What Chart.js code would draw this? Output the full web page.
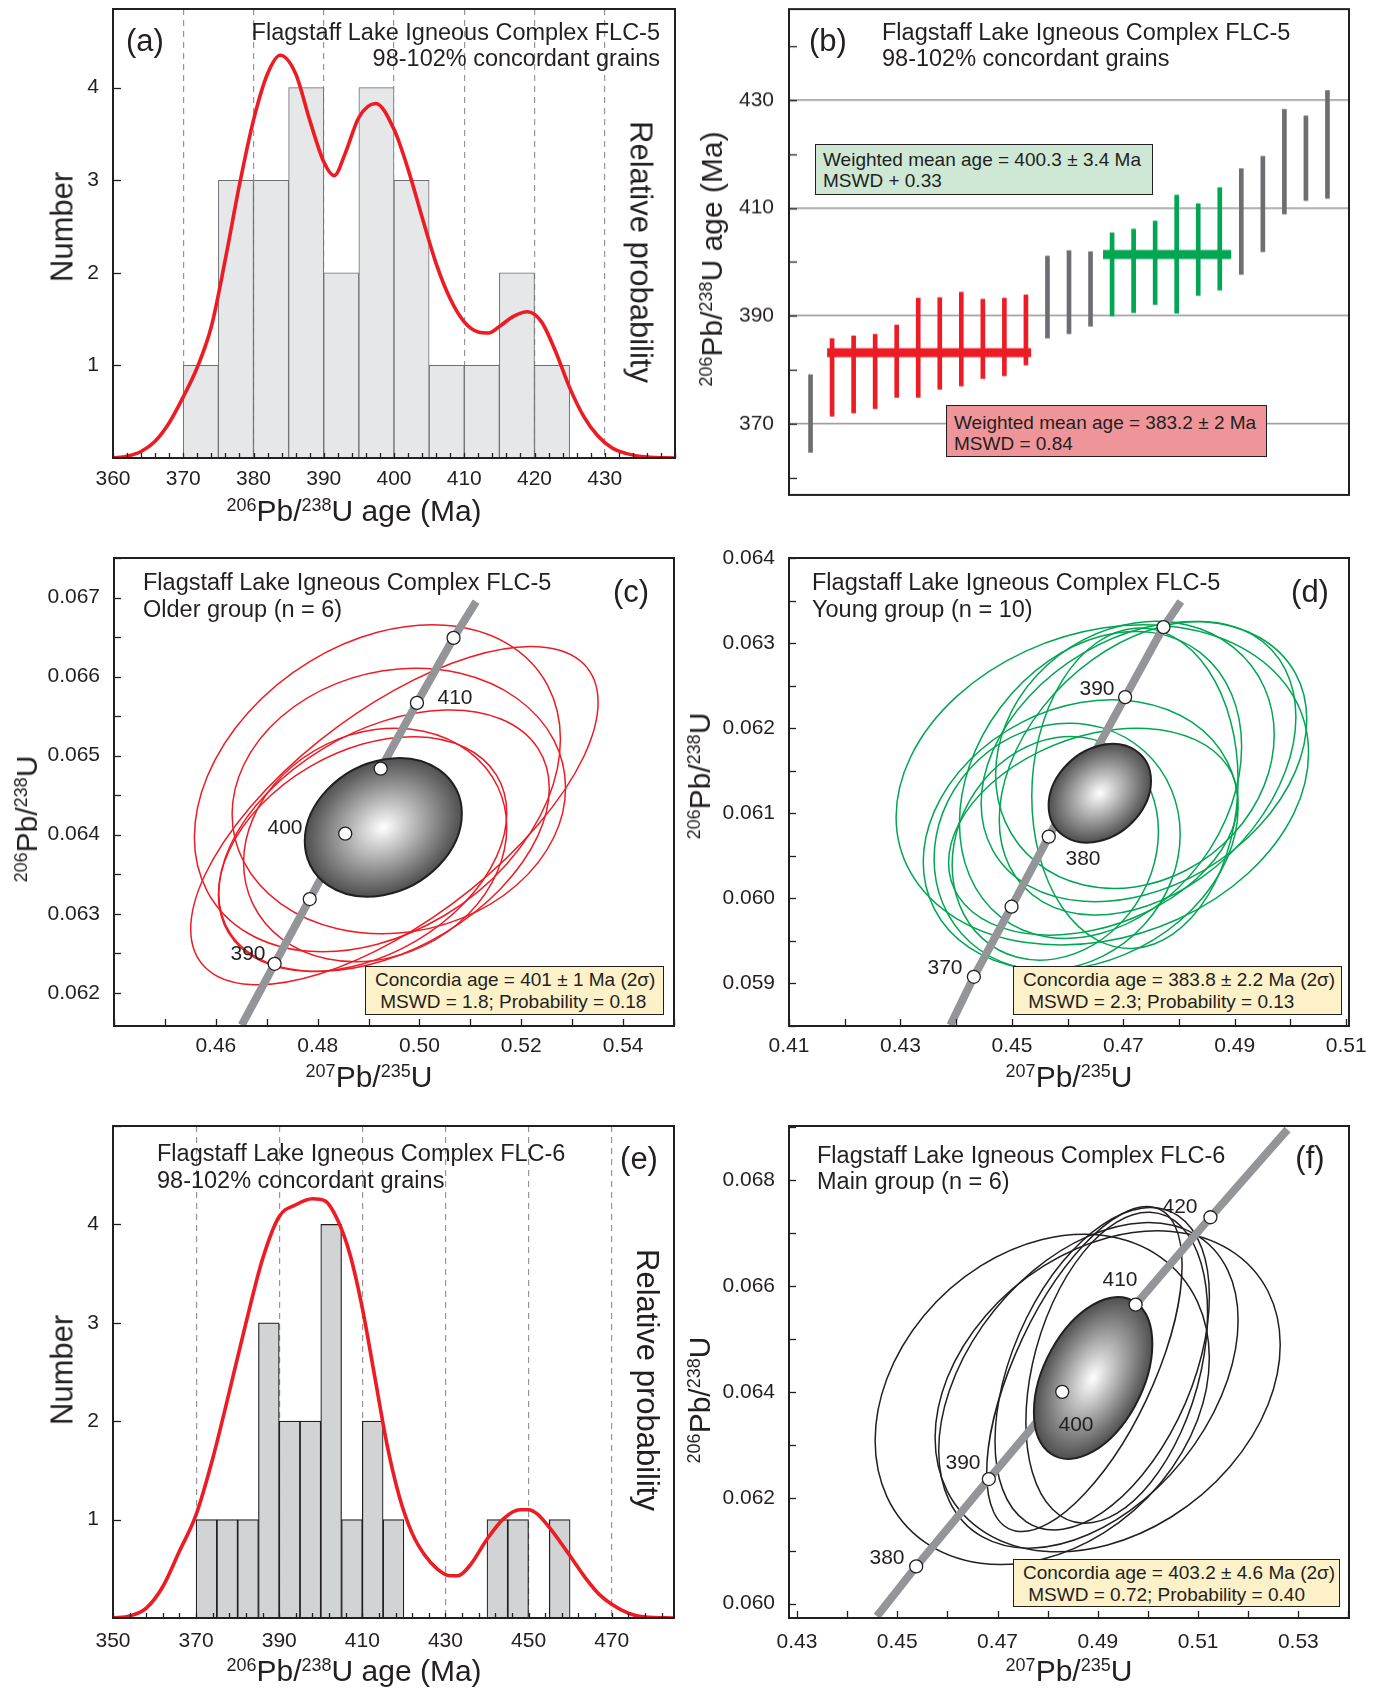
<!DOCTYPE html>
<html>
<head>
<meta charset="utf-8">
<script src="https://cdn.jsdelivr.net/npm/chart.js@4.4.1/dist/chart.umd.min.js"></script>
<style>
  body { margin: 0; background: #fff; }
  #fig { position: relative; width: 1379px; height: 1689px; overflow: hidden;
         font-family: "Liberation Sans", Arial, sans-serif; color: #231f20; }
  #fig canvas { position: absolute; }
  .t { position: absolute; white-space: nowrap; line-height: 1; z-index: 2; }
  .c { transform: translate(-50%, -50%); }
  .up { transform: translate(-50%, -50%) rotate(-90deg); }
  .dn { transform: translate(-50%, -50%) rotate(90deg); }
  .vm { transform: translateY(-50%); }
  .title { font-size: 23.5px; }
  .letter { font-size: 31px; }
  .ax { font-size: 30px; }
  .big { font-size: 31px; }
  .lab { font-size: 21px; }
  .sp { font-size: 0.6em; position: relative; top: -0.55em; }
  .box { position: absolute; box-sizing: border-box; border: 1.5px solid #231f20; z-index: 2;
         font-size: 19px; line-height: 22px; white-space: nowrap; }
</style>
</head>
<body>
<div id="fig">
  <!-- (a) -->
  <div class="t letter vm" style="left:126px;top:40px">(a)</div>
  <div class="t title vm" style="right:719px;top:33px">Flagstaff Lake Igneous Complex FLC-5</div>
  <div class="t title vm" style="right:719px;top:59px">98-102% concordant grains</div>
  <div class="t big dn" style="left:641px;top:252px">Relative probability</div>
  <div class="t big up" style="left:62px;top:227px">Number</div>
  <div class="t ax c" style="left:354px;top:511px"><span class="sp">206</span>Pb/<span class="sp">238</span>U age (Ma)</div>

  <!-- (b) -->
  <div class="t letter vm" style="left:809px;top:40px">(b)</div>
  <div class="t title vm" style="left:882px;top:33px">Flagstaff Lake Igneous Complex FLC-5</div>
  <div class="t title vm" style="left:882px;top:59px">98-102% concordant grains</div>
  <div class="t ax up" style="left:712px;top:259px"><span class="sp">206</span>Pb/<span class="sp">238</span>U age (Ma)</div>
  <div class="box" style="left:815px;top:144px;width:338px;height:51px;background:#cfe8d6;padding:5px 0 0 7px;line-height:20.5px">
    <div>Weighted mean age = 400.3 ± 3.4 Ma</div><div>MSWD + 0.33</div></div>
  <div class="box" style="left:946px;top:405px;width:321px;height:52px;background:#ef9599;padding:6px 0 0 7px;line-height:21px">
    <div>Weighted mean age = 383.2 ± 2 Ma</div><div>MSWD = 0.84</div></div>

  <!-- (c) -->
  <div class="t title vm" style="left:143px;top:583px">Flagstaff Lake Igneous Complex FLC-5</div>
  <div class="t title vm" style="left:143px;top:610px">Older group (n = 6)</div>
  <div class="t letter c" style="left:631px;top:591px">(c)</div>
  <div class="t ax up" style="left:27px;top:819px"><span class="sp">206</span>Pb/<span class="sp">238</span>U</div>
  <div class="t ax c" style="left:369px;top:1077px"><span class="sp">207</span>Pb/<span class="sp">235</span>U</div>
  <div class="t lab c" style="left:455px;top:696px">410</div>
  <div class="t lab c" style="left:285px;top:826px">400</div>
  <div class="t lab c" style="left:248px;top:952px">390</div>
  <div class="box" style="left:365px;top:966px;width:299px;height:49px;background:#fdf1c9;padding:2px 0 0 9px">
    <div>Concordia age = 401 ± 1 Ma (2σ)</div><div>&nbsp;MSWD = 1.8; Probability = 0.18</div></div>

  <!-- (d) -->
  <div class="t title vm" style="left:812px;top:583px">Flagstaff Lake Igneous Complex FLC-5</div>
  <div class="t title vm" style="left:812px;top:610px">Young group (n = 10)</div>
  <div class="t letter c" style="left:1310px;top:591px">(d)</div>
  <div class="t ax up" style="left:700px;top:776px"><span class="sp">206</span>Pb/<span class="sp">238</span>U</div>
  <div class="t ax c" style="left:1069px;top:1077px"><span class="sp">207</span>Pb/<span class="sp">235</span>U</div>
  <div class="t lab c" style="left:1097px;top:687px">390</div>
  <div class="t lab c" style="left:1083px;top:857px">380</div>
  <div class="t lab c" style="left:945px;top:966px">370</div>
  <div class="box" style="left:1013px;top:966px;width:329px;height:49px;background:#fdf1c9;padding:2px 0 0 9px">
    <div>Concordia age = 383.8 ± 2.2 Ma (2σ)</div><div>&nbsp;MSWD = 2.3; Probability = 0.13</div></div>

  <!-- (e) -->
  <div class="t title vm" style="left:157px;top:1154px">Flagstaff Lake Igneous Complex FLC-6</div>
  <div class="t title vm" style="left:157px;top:1181px">98-102% concordant grains</div>
  <div class="t letter c" style="left:639px;top:1158px">(e)</div>
  <div class="t big up" style="left:62px;top:1370px">Number</div>
  <div class="t big dn" style="left:647px;top:1380px">Relative probability</div>
  <div class="t ax c" style="left:354px;top:1671px"><span class="sp">206</span>Pb/<span class="sp">238</span>U age (Ma)</div>

  <!-- (f) -->
  <div class="t title vm" style="left:817px;top:1156px">Flagstaff Lake Igneous Complex FLC-6</div>
  <div class="t title vm" style="left:817px;top:1182px">Main group (n = 6)</div>
  <div class="t letter c" style="left:1310px;top:1157px">(f)</div>
  <div class="t ax up" style="left:700px;top:1400px"><span class="sp">206</span>Pb/<span class="sp">238</span>U</div>
  <div class="t ax c" style="left:1069px;top:1671px"><span class="sp">207</span>Pb/<span class="sp">235</span>U</div>
  <div class="t lab c" style="left:1180px;top:1205px">420</div>
  <div class="t lab c" style="left:1120px;top:1278px">410</div>
  <div class="t lab c" style="left:1076px;top:1423px">400</div>
  <div class="t lab c" style="left:963px;top:1461px">390</div>
  <div class="t lab c" style="left:887px;top:1556px">380</div>
  <div class="box" style="left:1013px;top:1559px;width:327px;height:48px;background:#fdf1c9;padding:2px 0 0 9px">
    <div>Concordia age = 403.2 ± 4.6 Ma (2σ)</div><div>&nbsp;MSWD = 0.72; Probability = 0.40</div></div>
</div>

<script>
const FONT = '"Liberation Sans", Arial, sans-serif';
const INK = '#231f20';
const RED = '#ed1c24';
const GREEN = '#00a651';
const GRAY = '#939598';

// ---------- (a) FLC-5 histogram + probability curve ----------
const binMidA = [372.5, 377.5, 382.5, 387.5, 392.5, 397.5, 402.5, 407.5, 412.5, 417.5, 422.5];
const countA = [1, 3, 3, 4, 2, 4, 3, 1, 1, 2, 1];
const probAgeA = [360, 362, 364, 366, 368, 370, 372, 374, 376, 378, 380, 382, 383.8, 386, 388, 390,
  391.5, 393, 395, 397.4, 400, 402, 404, 406, 408, 410, 412, 413.5, 415, 417, 419, 421, 423, 425,
  427, 429, 431, 433, 436, 440];
const probA = [0, 0.02, 0.07, 0.18, 0.38, 0.66, 0.98, 1.42, 2.15, 2.95, 3.65, 4.15, 4.35, 4.15, 3.65, 3.2,
  3.05, 3.28, 3.68, 3.83, 3.55, 3.12, 2.6, 2.1, 1.72, 1.47, 1.36, 1.35, 1.42, 1.53, 1.58, 1.47, 1.15, 0.76,
  0.45, 0.24, 0.11, 0.05, 0.01, 0];
const xTicksA = [360, 370, 380, 390, 400, 410, 420, 430];
const yTicksA = [1, 2, 3, 4];

// ---------- (b) FLC-5 single-grain ages (2 sigma) ----------
const grainLo = [364.7, 371.4, 372.0, 372.8, 374.9, 374.9, 376.4, 377.0, 378.4, 378.9, 380.9, 385.9, 386.7,
  388.1, 390.0, 390.6, 392.1, 390.5, 393.8, 394.8, 397.7, 401.9, 408.9, 411.4, 411.8];
const grainHi = [379.1, 385.8, 386.3, 386.6, 388.3, 393.3, 393.4, 394.4, 393.1, 393.3, 393.9, 401.1, 402.1,
  401.9, 405.4, 406.1, 407.6, 412.4, 410.8, 413.8, 417.3, 419.6, 428.3, 427.1, 431.8];
const grainGroup = ['k', 'r', 'r', 'r', 'r', 'r', 'r', 'r', 'r', 'r', 'r', 'k', 'k', 'k',
  'g', 'g', 'g', 'g', 'g', 'g', 'k', 'k', 'k', 'k', 'k'];
const meanYoungAge = 383.2, meanYoungSpan = [0.77, 10.24];
const meanOldAge = 401.4, meanOldSpan = [13.58, 19.53];
const yTicksB = [370, 390, 410, 430];

// ---------- (c) FLC-5 older group concordia ----------
const cX = [0.49174, 0.49508, 0.49595, 0.49304, 0.49130, 0.48883];
const cY = [0.064587, 0.064241, 0.064426, 0.063924, 0.063869, 0.063755];
const cSx = [0.03595, 0.04001, 0.03275, 0.03246, 0.02585, 0.02832];
const cSy = [0.002068, 0.002139, 0.001679, 0.001654, 0.001477, 0.001485];
const cRho = [0.30, 0.67, 0.10, 0.40, 0.15, 0.35];
const cMean = [0.49290, 0.064093, 0.01543, 0.000876, 0.20];
const cMarkX = [0.47155, 0.47845, 0.48542, 0.49239, 0.49951, 0.50670];
const cMarkY = [0.062367, 0.063186, 0.064013, 0.064835, 0.065667, 0.066489];
const cEndX = [0.46508, 0.51113], cEndY = [0.06159, 0.066949];
const xTicksC = [0.46, 0.48, 0.50, 0.52, 0.54];
const yTicksC = [0.062, 0.063, 0.064, 0.065, 0.066, 0.067];

// ---------- (d) FLC-5 young group concordia ----------
const dX = [0.46623, 0.47370, 0.47208, 0.47435, 0.47208, 0.46591, 0.46234, 0.45812, 0.45779, 0.46461];
const dY = [0.061333, 0.061608, 0.061686, 0.061529, 0.061294, 0.061333, 0.060745, 0.060608, 0.060588, 0.060784];
const dSx = [0.03701, 0.02922, 0.02500, 0.02662, 0.01851, 0.02532, 0.02825, 0.02208, 0.01851, 0.02597];
const dSy = [0.001882, 0.001647, 0.001569, 0.001725, 0.001882, 0.001804, 0.001588, 0.001451, 0.001314, 0.001216];
const dRho = [0.20, 0.30, 0.15, 0.35, 0.05, 0.25, 0.20, 0.10, 0.15, 0.30];
const dMean = [0.46578, 0.061235, 0.009188, 0.000580, 0.25];
const dMarkX = [0.44318, 0.44994, 0.45662, 0.47032, 0.47721];
const dMarkY = [0.059078, 0.059902, 0.060725, 0.062365, 0.063188];
const dEndX = [0.43896, 0.48032], dEndY = [0.05851, 0.06349];
const xTicksD = [0.41, 0.43, 0.45, 0.47, 0.49, 0.51];
const yTicksD = [0.059, 0.060, 0.061, 0.062, 0.063, 0.064];

// ---------- (e) FLC-6 histogram + probability curve ----------
const binMidE = [372.5, 377.5, 382.5, 387.5, 392.5, 397.5, 402.5, 407.5, 412.5, 417.5, 442.5, 447.5, 457.5];
const countE = [1, 1, 1, 3, 2, 2, 4, 1, 2, 1, 1, 1, 1];
const probAgeE = [350, 354, 358, 362, 366, 370, 374, 378, 382, 386, 390, 394, 398, 401, 404, 407, 410,
  413, 416, 419, 422, 425, 428, 431, 433, 436, 440, 444, 448, 450, 452, 455, 458, 461, 464, 467, 470,
  474, 478, 485];
const probE = [0, 0.02, 0.10, 0.32, 0.68, 1.05, 1.62, 2.3, 3.0, 3.65, 4.08, 4.2, 4.26, 4.24, 4.05, 3.7, 3.15,
  2.45, 1.75, 1.22, 0.86, 0.64, 0.5, 0.43, 0.43, 0.54, 0.8, 1.01, 1.1, 1.1, 1.06, 0.92, 0.75, 0.57, 0.39,
  0.24, 0.14, 0.05, 0.01, 0];
const xTicksE = [350, 370, 390, 410, 430, 450, 470];
const yTicksE = [1, 2, 3, 4];

// ---------- (f) FLC-6 main group concordia ----------
const fX = [0.47891, 0.49196, 0.48732, 0.49087, 0.49377, 0.48812];
const fY = [0.063859, 0.064010, 0.064430, 0.064437, 0.064455, 0.064123];
const fSx = [0.03333, 0.03442, 0.01949, 0.02138, 0.01812, 0.02986];
const fSy = [0.003118, 0.003030, 0.003068, 0.003043, 0.002936, 0.003074];
const fRho = [0.25, 0.29, 0.64, 0.45, 0.35, 0.40];
const fMean = [0.48906, 0.064261, 0.011812, 0.001528, 0.42];
const fMarkX = [0.45377, 0.46826, 0.48290, 0.49754, 0.51246];
const fMarkY = [0.060704, 0.062354, 0.064000, 0.065647, 0.067297];
const fEndX = [0.44594, 0.52783], fEndY = [0.059763, 0.068954];
const xTicksF = [0.43, 0.45, 0.47, 0.49, 0.51, 0.53];
const yTicksF = [0.060, 0.062, 0.064, 0.066, 0.068];

const ELL = {
  c: { x: cX, y: cY, sx: cSx, sy: cSy, rho: cRho, mean: cMean, color: RED },
  d: { x: dX, y: dY, sx: dSx, sy: dSy, rho: dRho, mean: dMean, color: GREEN },
  f: { x: fX, y: fY, sx: fSx, sy: fSy, rho: fRho, mean: fMean, color: INK }
};

// ---------- plugins ----------
function drawEll(chart, cx, cy, sx, sy, rho, stroke, lw, fill) {
  const X = chart.scales.x, Y = chart.scales.y, ctx = chart.ctx;
  const ox = X.getPixelForValue(cx), oy = Y.getPixelForValue(cy);
  const ax = X.getPixelForValue(cx + sx) - ox;
  const ay = Y.getPixelForValue(cy + sy) - oy;
  ctx.save();
  ctx.transform(ax, ay * rho, 0, ay * Math.sqrt(1 - rho * rho), ox, oy);
  ctx.beginPath();
  ctx.arc(0, 0, 1, 0, Math.PI * 2);
  if (fill) {
    const g = ctx.createRadialGradient(0, 0, 0, 0, 0, 1);
    g.addColorStop(0, '#ffffff');
    g.addColorStop(1, '#4f4f50');
    ctx.fillStyle = g;
    ctx.fill();
  }
  ctx.restore();
  ctx.strokeStyle = stroke;
  ctx.lineWidth = lw;
  ctx.stroke();
}

function clipArea(chart) {
  const a = chart.chartArea;
  chart.ctx.save();
  chart.ctx.beginPath();
  chart.ctx.rect(a.left, a.top, a.right - a.left, a.bottom - a.top);
  chart.ctx.clip();
}

const ellipses = {
  id: 'ellipses',
  beforeDatasetsDraw(chart, args, o) {
    const e = ELL[o.set];
    if (!e) return;
    clipArea(chart);
    e.x.forEach((v, i) => drawEll(chart, v, e.y[i], e.sx[i], e.sy[i], e.rho[i], e.color, 1.5, false));
    chart.ctx.restore();
  },
  afterDatasetDraw(chart, args, o) {
    const e = ELL[o.set];
    if (!e || args.index !== 1) return;
    const m = e.mean;
    clipArea(chart);
    drawEll(chart, m[0], m[1], m[2], m[3], m[4], INK, 2, true);
    chart.ctx.restore();
  }
};

const inTicks = {
  id: 'inTicks',
  afterDraw(chart, args, o) {
    const { ctx, chartArea: a } = chart;
    ctx.save();
    ctx.strokeStyle = INK;
    ctx.lineWidth = 1.3;
    ['x', 'y'].forEach(k => {
      const spec = o[k];
      if (!spec) return;
      const s = chart.scales[k];
      for (let i = 0; i < 500; i++) {
        const v = spec.from + i * spec.step;
        if (v > s.max + spec.step * 1e-6) break;
        if (v < s.min - spec.step * 1e-6) continue;
        const p = Math.round(s.getPixelForValue(v)) + 0.5;
        ctx.beginPath();
        if (k === 'x') { ctx.moveTo(p, a.bottom); ctx.lineTo(p, a.bottom - spec.len); }
        else { ctx.moveTo(a.left, p); ctx.lineTo(a.left + spec.len, p); }
        ctx.stroke();
      }
    });
    ctx.restore();
  }
};

const frame = {
  id: 'frame',
  afterDraw(chart) {
    const { ctx, chartArea: a } = chart;
    ctx.save();
    ctx.strokeStyle = INK;
    ctx.lineWidth = 2;
    ctx.strokeRect(a.left, a.top, a.right - a.left, a.bottom - a.top);
    ctx.restore();
  }
};

Chart.register(ellipses, inTicks, frame);
Chart.defaults.font.family = FONT;

// ---------- layout helpers ----------
// margins around each plot area; T and R leave room for the axes' own label padding
const L = 90, B = 45, T = 40, R = 48;

function panel(rect, config) {
  const c = document.createElement('canvas');
  const w = L + rect[2] - rect[0] + R, h = T + rect[3] - rect[1] + B;
  c.width = w; c.height = h;
  c.style.left = (rect[0] - L) + 'px';
  c.style.top = (rect[1] - T) + 'px';
  c.style.width = w + 'px';
  c.style.height = h + 'px';
  document.getElementById('fig').prepend(c);
  return new Chart(c, config);
}

function axis(pos, min, max, ticks, fmt, pad, grid, dash) {
  return {
    type: 'linear', position: pos, min: min, max: max, offset: false,
    afterBuildTicks: s => { s.ticks = ticks.map(v => ({ value: v })); },
    afterFit: s => { if (pos === 'left') s.width = L; else s.height = B; },
    ticks: {
      display: fmt !== null, font: { family: FONT, size: 21 }, color: INK, padding: pad,
      maxRotation: 0, autoSkip: false, callback: fmt || (v => v)
    },
    grid: Object.assign({ display: false, offset: false, drawTicks: false }, grid || {}),
    border: { display: false, dash: dash || [] }
  };
}

function opts(scales, plugins) {
  return {
    responsive: false, animation: false, devicePixelRatio: 1,
    layout: { padding: { left: 0, right: R, top: T, bottom: 0 } },
    plugins: Object.assign({ legend: { display: false }, tooltip: { enabled: false } }, plugins),
    scales: scales
  };
}

function histConfig(mids, counts, ages, probs, xr, xt, yt, barFill, barEdge, barW, xPad, xMinor) {
  return {
    type: 'bar',
    data: {
      datasets: [
        { type: 'line', data: ages.map((x, i) => ({ x: x, y: probs[i] })), borderColor: RED, borderWidth: 3.6,
          pointRadius: 0, cubicInterpolationMode: 'monotone', fill: false },
        { type: 'bar', data: mids.map((x, i) => ({ x: x, y: counts[i] })), backgroundColor: barFill,
          borderColor: barEdge, borderWidth: barW, barPercentage: 1, categoryPercentage: 1 }
      ]
    },
    options: opts({
      x: axis('bottom', xr[0], xr[1], xt, v => v, xPad,
        { display: true, color: GRAY, lineWidth: 1.2 }, [6, 5]),
      y: axis('left', yt.range[0], yt.range[1], yt.ticks, v => v, 14)
    }, { inTicks: { x: xMinor, y: { from: 1, step: 1, len: 8 } } })
  };
}

function concConfig(set, mx, my, ex, ey, xr, yr, xt, yt, fx, fy, xPad, xMinor, yMinor) {
  const marks = mx.map((x, i) => ({ x: x, y: my[i] }));
  const line = [{ x: ex[0], y: ey[0] }].concat(marks, [{ x: ex[1], y: ey[1] }]);
  return {
    type: 'scatter',
    data: {
      datasets: [
        { data: marks, pointRadius: 6.5, pointBackgroundColor: '#ffffff', pointBorderColor: INK,
          pointBorderWidth: 1.3, showLine: false },
        { data: line, showLine: true, borderColor: GRAY, borderWidth: 8, pointRadius: 0 }
      ]
    },
    options: opts({
      x: axis('bottom', xr[0], xr[1], xt, fx, xPad),
      y: axis('left', yr[0], yr[1], yt, fy, 14)
    }, { ellipses: { set: set }, inTicks: { x: xMinor, y: yMinor } })
  };
}

const f2 = v => v.toFixed(2), f3 = v => v.toFixed(3);

// (a)
panel([113, 9, 675, 458], histConfig(binMidA, countA, probAgeA, probA, [360, 440], xTicksA,
  { range: [0, 4.85], ticks: yTicksA }, '#e6e7e8', '#6d6e71', 1, 9, { from: 360, step: 2, len: 5 }));

// (b)
panel([789, 9, 1349, 494.5], {
  type: 'bar',
  data: {
    datasets: [
      { type: 'line', data: meanYoungSpan.map(x => ({ x: x, y: meanYoungAge })), borderColor: RED,
        borderWidth: 9, pointRadius: 0 },
      { type: 'line', data: meanOldSpan.map(x => ({ x: x, y: meanOldAge })), borderColor: GREEN,
        borderWidth: 9, pointRadius: 0 },
      { type: 'bar', data: grainLo.map((lo, i) => ({ x: i, y: [lo, grainHi[i]] })),
        backgroundColor: grainGroup.map(g => g === 'r' ? RED : g === 'g' ? GREEN : '#6d6e71'),
        barThickness: 4, borderWidth: 0 }
    ]
  },
  options: opts({
    x: axis('bottom', -1, 25, [], null, 0),
    y: axis('left', 356.8, 446.9, yTicksB, v => v, 15, { display: true, color: GRAY, lineWidth: 1.6 })
  }, { inTicks: { y: { from: 360, step: 10, len: 8 } } })
});

// (c)
panel([114, 558, 674, 1026], concConfig('c', cMarkX, cMarkY, cEndX, cEndY, [0.44, 0.55], [0.06158, 0.0675],
  xTicksC, yTicksC, f2, f3, 8, { from: 0.44, step: 0.01, len: 7 }, { from: 0.062, step: 0.0005, len: 7 }));

// (d)
panel([789, 558, 1349, 1026], concConfig('d', dMarkX, dMarkY, dEndX, dEndY, [0.41, 0.5105], [0.0585, 0.064],
  xTicksD, yTicksD, f2, f3, 8, { from: 0.41, step: 0.01, len: 7 }, { from: 0.0585, step: 0.0005, len: 7 }));

// (e)
panel([113, 1126, 674, 1618], histConfig(binMidE, countE, probAgeE, probE, [350, 485], xTicksE,
  { range: [0, 5.0], ticks: yTicksE }, '#d1d3d4', '#231f20', 1.2, 11, { from: 350, step: 4, len: 5 }));

// (f)
panel([789, 1126, 1349, 1618], concConfig('f', fMarkX, fMarkY, fEndX, fEndY, [0.4284, 0.5401], [0.05973, 0.06902],
  xTicksF, yTicksF, f2, f3, 12, { from: 0.43, step: 0.01, len: 7 }, { from: 0.060, step: 0.001, len: 7 }));
</script>
</body>
</html>
